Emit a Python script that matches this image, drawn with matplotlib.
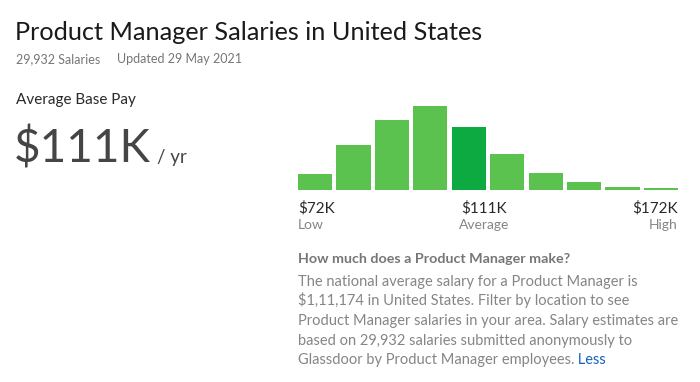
import matplotlib
matplotlib.use("Agg")
import matplotlib.pyplot as plt
from matplotlib.text import Annotation

# Salary distribution (bar heights, relative units)
bins = list(range(10))
counts = [16, 45, 70, 84, 63, 36, 17, 8, 3, 1.7]
avg_bin = 4

title = "Product Manager Salaries in United States"
n_salaries = "29,932 Salaries"
updated = "Updated 29 May 2021"
avg_pay = "$111K"
low_label, avg_label, high_label = "$72K", "$111K", "$172K"
paragraph = [
    "The national average salary for a Product Manager is",
    "$1,11,174 in United States. Filter by location to see",
    "Product Manager salaries in your area. Salary estimates are",
    "based on 29,932 salaries submitted anonymously to",
    "Glassdoor by Product Manager employees.",
]

W, H = 700, 382
plt.rcParams["font.family"] = ["Lato", "DejaVu Sans"]
fig = plt.figure(figsize=(W / 100, H / 100), dpi=100)
fig.patch.set_facecolor("white")


def px(x, y):
    return x / W, 1 - y / H


def txt(x, y, s, **kw):
    return fig.text(*px(x, y), s, va="baseline", **kw)


dark = "#1a1a1a"
gray = "#767676"
light_gray = "#858585"

txt(15, 40, title, size=18.2, color=dark)
txt(16, 63, n_salaries, size=9, color=gray)
txt(117, 63, updated, size=9, color=gray)
txt(16, 104, "Average Base Pay", size=11, color="#2a2a2a")
txt(14, 163, avg_pay, size=33, color="#454545")
txt(157, 163, "/ yr", size=13.5, color="#454545")

# histogram
ax = fig.add_axes([298 / W, 1 - 189.5 / H, 380 / W, (189.5 - 105.5) / H])
colors = ["#0caa41" if b == avg_bin else "#5bc250" for b in bins]
ax.bar(bins, counts, width=0.887, color=colors, linewidth=0)
ax.set_xlim(-0.4435, len(bins) - 1 + 0.4435)
ax.set_ylim(0, max(counts))
ax.axis("off")

txt(298, 213, low_label, size=11, color="#2a2a2a")
txt(298, 229, "Low", size=10, color=light_gray)
txt(484, 213, avg_label, size=11, color="#2a2a2a", ha="center")
txt(484, 229, "Average", size=10, color=light_gray, ha="center")
txt(678, 213, high_label, size=11, color="#2a2a2a", ha="right")
txt(678, 229, "High", size=10, color=light_gray, ha="right")

txt(298, 263, "How much does a Product Manager make?", size=10.3,
    color=gray, weight="bold")
y = 286
last = None
for line in paragraph:
    last = txt(298, y, line, size=10.55, color=light_gray)
    y += 19.5
fig.add_artist(Annotation(" Less", xy=(1.0, 0.0), xycoords=last,
                          va="bottom", size=10.55, color="#1861bf"))

fig.savefig("out.png", dpi=100, facecolor="white")
